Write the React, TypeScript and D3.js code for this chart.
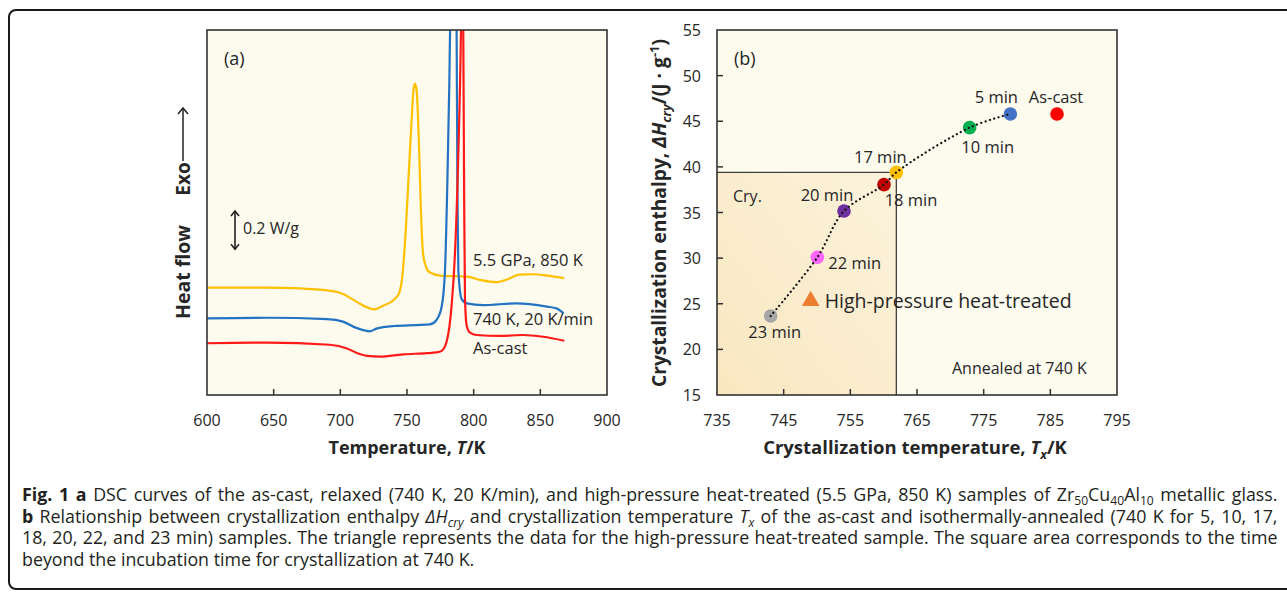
import React, { useLayoutEffect, useRef, useState } from 'react';
import * as d3 from 'd3';

// ---- Panel (a): DSC traces, [temperature K, heat flow W/g (offset)] ----
const asCastCurve: [number, number][] = [
  [600, 0.270], [645, 0.273], [692, 0.262], [705, 0.243], [712, 0.220], [720, 0.204],
  [730, 0.200], [747, 0.212], [765, 0.218], [772, 0.222], [776, 0.230], [779.8, 0.28],
  [783.5, 0.47], [786, 0.74], [788.5, 1.26], [790.5, 1.90], [791.4, 2.4], [792.2, 1.90],
  [792.9, 1.0], [793.5, 0.50], [794.8, 0.36], [797.3, 0.325], [802, 0.313], [820, 0.308],
  [837, 0.313], [852, 0.304], [868, 0.283],
];
const relaxedCurve: [number, number][] = [
  [600, 0.400], [645, 0.403], [690, 0.396], [702, 0.383], [712, 0.350], [718, 0.337],
  [722, 0.332], [727, 0.346], [740, 0.360], [757, 0.365], [767, 0.368], [772, 0.39],
  [776, 0.46], [778.5, 0.65], [780.2, 1.09], [781.7, 1.61], [782.3, 1.90], [784.7, 2.5],
  [787.2, 1.90], [787.8, 1.09], [788.5, 0.65], [791, 0.50], [794.8, 0.478], [807, 0.469],
  [832, 0.478], [855, 0.461], [862, 0.452], [867.5, 0.426],
];
const highPressureCurve: [number, number][] = [
  [600, 0.560], [645, 0.560], [687, 0.548], [702, 0.527], [712, 0.487], [720, 0.457],
  [725, 0.447], [732, 0.465], [740, 0.496], [744, 0.53], [746.5, 0.62], [749, 0.85],
  [751.5, 1.18], [753.5, 1.44], [755, 1.60], [756, 1.625], [757.2, 1.59], [759, 1.30],
  [760.5, 0.95], [762, 0.74], [764, 0.675], [767, 0.64], [775, 0.623], [795, 0.617],
  [805, 0.60], [817, 0.589], [826, 0.605], [834, 0.628], [845, 0.630], [857, 0.621],
  [868, 0.609],
];
const curveNames = ['5.5 GPa, 850 K', '740 K, 20 K/min', 'As-cast'];
const tempTicks = [600, 650, 700, 750, 800, 850, 900];

// ---- Panel (b): crystallization temperature vs enthalpy ----
const sampleNames = ['As-cast', '5 min', '10 min', '17 min', '18 min', '20 min', '22 min', '23 min'];
const sampleTx = [786, 779, 772.9, 761.9, 760.05, 754.05, 750.05, 743.05];
const sampleDH = [45.8, 45.8, 44.3, 39.4, 38.05, 35.16, 30.09, 23.66];
const hpTx = 749.05;
const hpDH = 25.3;
const txTicks = [735, 745, 755, 765, 775, 785, 795];
const dhTicks = [15, 20, 25, 30, 35, 40, 45, 50, 55];

const FONT = "'Open Sans', 'Noto Sans', sans-serif";
const TEXT = '#262626';

const sampleColors: Record<string, string> = {
  'As-cast': '#ff0000',
  '5 min': '#4472c4',
  '10 min': '#00b050',
  '17 min': '#ffc000',
  '18 min': '#c00000',
  '20 min': '#7030a0',
  '22 min': '#ff66ff',
  '23 min': '#a6a6a6',
};
// label placement relative to each marker (px)
const labelOffset: Record<string, [number, number, 'start' | 'middle']> = {
  'As-cast': [-1, -17, 'middle'],
  '5 min': [-14, -17, 'middle'],
  '10 min': [18, 20, 'middle'],
  '17 min': [-16, -15, 'middle'],
  '18 min': [27, 16, 'middle'],
  '20 min': [-17, -16, 'middle'],
  '22 min': [11, 6, 'start'],
  '23 min': [4, 16, 'middle'],
};

const CAP_X = 22;
const CAP_END = 1278;
const CAP_BASE = 16.5;

export default function App() {
  // panel (a) scales
  const xA = d3.scaleLinear().domain([600, 900]).range([207, 607]);
  const yA = d3.scaleLinear().domain([0, 1.904]).range([395, 30]);
  // panel (b) scales
  const xB = d3.scaleLinear().domain([735, 795]).range([717, 1117]);
  const yB = d3.scaleLinear().domain([15, 55]).range([395, 30]);

  // justified caption: measure each line once, then set font size / word spacing
  const capRefs = useRef<(SVGTextElement | null)[]>([]);
  const [cap, setCap] = useState({ fs: CAP_BASE, ws: [0, 0, 0, 0] });
  useLayoutEffect(() => {
    const els = capRefs.current;
    if (els.some((e) => !e)) return;
    const target = CAP_END - CAP_X;
    const widths = els.map((e) => (e as SVGTextElement).getComputedTextLength());
    const k = Math.min(1.08, ...widths.slice(0, 3).map((w) => target / w));
    const ws = widths.map((w, i) => {
      if (i === 3) return 0;
      const spaces = ((els[i] as SVGTextElement).textContent || '').split(' ').length - 1;
      return (target - w * k) / Math.max(1, spaces);
    });
    setCap({ fs: CAP_BASE * k, ws });
  }, []);

  const lineA = d3
    .line<[number, number]>()
    .x((d) => xA(d[0]))
    .y((d) => yA(d[1]))
    .curve(d3.curveMonotoneX);

  const traces = [
    { name: curveNames[0], data: highPressureCurve, color: '#ffc000' },
    { name: curveNames[1], data: relaxedCurve, color: '#2373c4' },
    { name: curveNames[2], data: asCastCurve, color: '#ff1a1a' },
  ];

  // annealed series (excluding as-cast) joined by a dotted trend curve
  const annealed = sampleNames
    .map((n, i) => ({ n, x: sampleTx[i], y: sampleDH[i] }))
    .filter((d) => d.n !== 'As-cast')
    .sort((a, b) => a.x - b.x);
  const trend = d3
    .line<{ x: number; y: number }>()
    .x((d) => xB(d.x))
    .y((d) => yB(d.y))
    .curve(d3.curveCatmullRom.alpha(0.5));

  const idx17 = sampleNames.indexOf('17 min');
  const cryX1 = xB(sampleTx[idx17]);
  const cryY1 = yB(sampleDH[idx17]);

  const tri = d3.symbol().type(d3.symbolTriangle).size(135)();

  // scale bar: 0.2 W/g
  const barLo = 0.76;
  const barHi = barLo + 0.2;
  const barX = 235;

  const sub = { fontSize: '0.68em' };

  return (
    <svg
      width={1287}
      height={592}
      style={{ position: 'absolute', left: 0, top: 0, display: 'block', background: '#fff' }}
      fontFamily={FONT}
    >
      <defs>
        <clipPath id="clipA">
          <rect x={207} y={30} width={400} height={365} />
        </clipPath>
        <linearGradient id="cryFill" x1="0" y1="1" x2="1" y2="0">
          <stop offset="0%" stopColor="#f9e7c0" />
          <stop offset="100%" stopColor="#fcf3dc" />
        </linearGradient>
      </defs>

      <rect x={9} y={10} width={1300} height={579} rx={7} fill="none" stroke="#1a1a1a" strokeWidth={2} />

      {/* ---------- panel (a) ---------- */}
      <rect x={207} y={30} width={400} height={365} fill="#fdfaee" />
      <g clipPath="url(#clipA)">
        {traces.map((t) => (
          <path key={t.name} d={lineA(t.data) || ''} fill="none" stroke={t.color} strokeWidth={2.2} strokeLinejoin="round" />
        ))}
      </g>
      <rect x={207} y={30} width={400} height={365} fill="none" stroke="#333" strokeWidth={1.6} />
      {tempTicks.slice(1, -1).map((t) => (
        <line key={t} x1={xA(t)} x2={xA(t)} y1={395} y2={389} stroke="#333" strokeWidth={1.5} />
      ))}
      {tempTicks.map((t) => (
        <text key={t} x={xA(t)} y={426} textAnchor="middle" fontSize={16} fill={TEXT}>
          {t}
        </text>
      ))}
      <text x={407} y={454} textAnchor="middle" fontSize={18} fontWeight="bold" fill={TEXT}>
        Temperature, <tspan fontStyle="italic">T</tspan>/K
      </text>
      <text x={224} y={65} fontSize={18} fill={TEXT}>(a)</text>

      {/* heat-flow axis caption with exo arrow */}
      <text transform="translate(189.5,272) rotate(-90)" textAnchor="middle" fontSize={19.5} fontWeight="bold" fill={TEXT}>
        Heat flow
      </text>
      <text transform="translate(189.5,179) rotate(-90)" textAnchor="middle" fontSize={19} fontWeight="bold" fill={TEXT}>
        Exo
      </text>
      <line x1={183} x2={183} y1={161} y2={108} stroke="#222" strokeWidth={1.5} />
      <path d="M178,114 L183,108 L188,114" fill="none" stroke="#222" strokeWidth={1.5} />

      {/* scale bar */}
      <line x1={barX} x2={barX} y1={yA(barLo)} y2={yA(barHi)} stroke="#222" strokeWidth={1.6} />
      <path d={`M${barX - 4},${yA(barHi) + 5} L${barX},${yA(barHi)} L${barX + 4},${yA(barHi) + 5}`} fill="none" stroke="#222" strokeWidth={1.6} />
      <path d={`M${barX - 4},${yA(barLo) - 5} L${barX},${yA(barLo)} L${barX + 4},${yA(barLo) - 5}`} fill="none" stroke="#222" strokeWidth={1.6} />
      <text x={243} y={234} fontSize={16} fill={TEXT}>0.2 W/g</text>

      <text x={473} y={266} fontSize={16.5} fill={TEXT}>{curveNames[0]}</text>
      <text x={473} y={325} fontSize={16.5} fill={TEXT}>{curveNames[1]}</text>
      <text x={473} y={354} fontSize={16.5} fill={TEXT}>{curveNames[2]}</text>

      {/* ---------- panel (b) ---------- */}
      <rect x={717} y={30} width={400} height={365} fill="#fdfaee" />
      <rect x={717} y={cryY1} width={cryX1 - 717} height={395 - cryY1} fill="url(#cryFill)" />
      <path d={`M717,${cryY1} H${cryX1} V395`} fill="none" stroke="#404040" strokeWidth={1.3} />
      <rect x={717} y={30} width={400} height={365} fill="none" stroke="#333" strokeWidth={1.6} />
      {txTicks.slice(1, -1).map((t) => (
        <line key={t} x1={xB(t)} x2={xB(t)} y1={395} y2={389} stroke="#333" strokeWidth={1.5} />
      ))}
      {dhTicks.slice(1, -1).map((t) => (
        <line key={t} x1={717} x2={723} y1={yB(t)} y2={yB(t)} stroke="#333" strokeWidth={1.5} />
      ))}
      {txTicks.map((t) => (
        <text key={t} x={xB(t)} y={426} textAnchor="middle" fontSize={16} fill={TEXT}>
          {t}
        </text>
      ))}
      {dhTicks.map((t) => (
        <text key={t} x={701} y={yB(t) + 6} textAnchor="end" fontSize={16} fill={TEXT}>
          {t}
        </text>
      ))}
      <text x={915} y={454} textAnchor="middle" fontSize={18.5} fontWeight="bold" fill={TEXT}>
        Crystallization temperature, <tspan fontStyle="italic">T</tspan>
        <tspan fontStyle="italic" fontSize={12.5} dy={5}>x</tspan>
        <tspan dy={-5}>/K</tspan>
      </text>
      <text transform="translate(666,213) rotate(-90)" textAnchor="middle" fontSize={19.2} fontWeight="bold" fill={TEXT}>
        Crystallization enthalpy, <tspan fontStyle="italic">ΔH</tspan>
        <tspan fontStyle="italic" fontSize={13} dy={5}>cry</tspan>
        <tspan dy={-5}>/(J · g</tspan>
        <tspan fontSize={13} dy={-7}>-1</tspan>
        <tspan dy={7}>)</tspan>
      </text>
      <text x={734} y={65} fontSize={18} fill={TEXT}>(b)</text>
      <text x={733} y={202} fontSize={16} fill={TEXT}>Cry.</text>
      <text x={952} y={374} fontSize={16} fill={TEXT}>Annealed at 740 K</text>

      {sampleNames.map((n, i) => (
        <circle key={n} cx={xB(sampleTx[i])} cy={yB(sampleDH[i])} r={6.8} fill={sampleColors[n]} />
      ))}
      <path
        d={trend(annealed) || ''}
        fill="none"
        stroke="#111"
        strokeWidth={2.2}
        strokeDasharray="0.1 4.4"
        strokeLinecap="round"
      />
      {sampleNames.map((n, i) => {
        const [dx, dy, anchor] = labelOffset[n];
        return (
          <text
            key={n}
            x={xB(sampleTx[i]) + dx}
            y={yB(sampleDH[i]) + dy}
            dy="0.35em"
            textAnchor={anchor}
            fontSize={16.5}
            fill={TEXT}
          >
            {n}
          </text>
        );
      })}
      <path d={tri || ''} transform={`translate(${xB(hpTx)},${yB(hpDH)})`} fill="#ed7d31" />
      <text x={xB(hpTx) + 14} y={yB(hpDH)} dy="0.35em" fontSize={19.5} fill={TEXT}>
        High-pressure heat-treated
      </text>

      {/* ---------- caption ---------- */}
      <g fontSize={cap.fs} fill="#231f20">
        <text ref={(el) => { capRefs.current[0] = el; }} x={CAP_X} y={501} style={{ wordSpacing: `${cap.ws[0]}px` }}>
          <tspan fontWeight="bold">Fig. 1 a</tspan> DSC curves of the as-cast, relaxed (740 K, 20 K/min), and high-pressure heat-treated (5.5 GPa, 850 K) samples of Zr
          <tspan style={sub} dy={4}>50</tspan>
          <tspan dy={-4}>Cu</tspan>
          <tspan style={sub} dy={4}>40</tspan>
          <tspan dy={-4}>Al</tspan>
          <tspan style={sub} dy={4}>10</tspan>
          <tspan dy={-4}> metallic glass.</tspan>
        </text>
        <text ref={(el) => { capRefs.current[1] = el; }} x={CAP_X} y={522.5} style={{ wordSpacing: `${cap.ws[1]}px` }}>
          <tspan fontWeight="bold">b</tspan> Relationship between crystallization enthalpy <tspan fontStyle="italic">ΔH</tspan>
          <tspan fontStyle="italic" style={sub} dy={4}>cry</tspan>
          <tspan dy={-4}> and crystallization temperature </tspan>
          <tspan fontStyle="italic">T</tspan>
          <tspan fontStyle="italic" style={sub} dy={4}>x</tspan>
          <tspan dy={-4}> of the as-cast and isothermally-annealed (740 K for 5, 10, 17,</tspan>
        </text>
        <text ref={(el) => { capRefs.current[2] = el; }} x={CAP_X} y={544} style={{ wordSpacing: `${cap.ws[2]}px` }}>
          18, 20, 22, and 23 min) samples. The triangle represents the data for the high-pressure heat-treated sample. The square area corresponds to the time
        </text>
        <text ref={(el) => { capRefs.current[3] = el; }} x={CAP_X} y={565.5}>
          beyond the incubation time for crystallization at 740 K.
        </text>
      </g>
    </svg>
  );
}
